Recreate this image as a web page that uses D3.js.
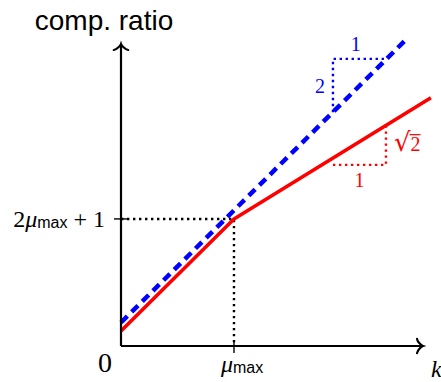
<!DOCTYPE html>
<html>
<head>
<meta charset="utf-8">
<script src="https://cdn.jsdelivr.net/npm/d3@7"></script>
<style>
  html, body { margin: 0; padding: 0; background: #fff; }
  svg { display: block; }
  .serif { font-family: "Liberation Serif", "DejaVu Serif", serif; }
  .sans { font-family: "Liberation Sans", Arial, sans-serif; }
</style>
</head>
<body>
<svg width="441" height="382"></svg>
<script>
// axis extents (abstract units, mu_max = 1)
const xDomain = [0, 2.673];
const yDomain = [0, 7.13];

// ticks
const xTickValues = [1];
const yTickValues = [3];

// lines
const redPts = [[0, 0.354], [1, 3], [2.743, 5.86]];
const bluePts = [[0, 0.555], [2.54, 7.28]];
const guidePts = [[0, 3], [1, 3], [1, 0]];

// slope triangles
const blueTri = [[1.876, 5.52], [1.876, 6.78], [2.351, 6.78]];
const redTri = [[1.876, 4.276], [2.345, 4.276], [2.345, 5.207]];
const blueTriLabels = ['2', '1'];   // vertical, horizontal
const redTriLabels = ['1', '2'];    // horizontal, sqrt(...)

const svg = d3.select('svg');

const x = d3.scaleLinear().domain(xDomain).range([121, 423]);
const y = d3.scaleLinear().domain(yDomain).range([346, 44]);

const line = d3.line()
    .x(d => x(d[0]))
    .y(d => y(d[1]));

// dotted guides to the knee
svg.append('path')
    .attr('d', line(guidePts))
    .attr('fill', 'none')
    .attr('stroke', '#000')
    .attr('stroke-width', 2.4)
    .attr('stroke-dasharray', '2.4 3.6');

// blue dashed line
svg.append('path')
    .attr('d', line(bluePts))
    .attr('fill', 'none')
    .attr('stroke', '#0000ff')
    .attr('stroke-width', 4.5)
    .attr('stroke-dasharray', '9 6');

// red line
svg.append('path')
    .attr('d', line(redPts))
    .attr('fill', 'none')
    .attr('stroke', '#ff0000')
    .attr('stroke-width', 3.6)
    .attr('stroke-linejoin', 'round');

// slope triangles
svg.append('path')
    .attr('d', line(blueTri))
    .attr('fill', 'none')
    .attr('stroke', '#0000ff')
    .attr('stroke-width', 2.4)
    .attr('stroke-dasharray', '2.4 3.6');

svg.append('path')
    .attr('d', line(redTri))
    .attr('fill', 'none')
    .attr('stroke', '#ff0000')
    .attr('stroke-width', 2.4)
    .attr('stroke-dasharray', '2.4 3.6');

// blue triangle labels
svg.append('text').attr('class', 'serif')
    .attr('x', x(blueTri[0][0]) - 8)
    .attr('y', (y(blueTri[0][1]) + y(blueTri[1][1])) / 2 + 7)
    .attr('text-anchor', 'end')
    .attr('font-size', 20)
    .attr('fill', '#0000ff')
    .text(blueTriLabels[0]);

svg.append('text').attr('class', 'serif')
    .attr('x', (x(blueTri[1][0]) + x(blueTri[2][0])) / 2 - 4)
    .attr('y', y(blueTri[1][1]) - 8)
    .attr('text-anchor', 'middle')
    .attr('font-size', 20)
    .attr('fill', '#0000ff')
    .text(blueTriLabels[1]);

// red triangle labels
svg.append('text').attr('class', 'serif')
    .attr('x', (x(redTri[0][0]) + x(redTri[1][0])) / 2)
    .attr('y', y(redTri[0][1]) + 22)
    .attr('text-anchor', 'middle')
    .attr('font-size', 20)
    .attr('fill', '#ff0000')
    .text(redTriLabels[0]);

const sq = svg.append('text').attr('class', 'serif')
    .attr('x', x(redTri[1][0]) + 8)
    .attr('y', (y(redTri[1][1]) + y(redTri[2][1])) / 2 + 6)
    .attr('font-size', 20)
    .attr('fill', '#ff0000');
const rad = sq.append('tspan').attr('font-size', 26).attr('font-family', '"DejaVu Serif", serif').text('\u221A');
const sq2 = sq.append('tspan').text(redTriLabels[1]);
{
  const b = sq2.node().getBBox();
  const r = rad.node().getBBox ? sq.node().getBBox() : b;
  svg.append('line')
      .attr('x1', b.x - 1).attr('x2', b.x + b.width)
      .attr('y1', b.y + 1.5).attr('y2', b.y + 1.5)
      .attr('stroke', '#ff0000')
      .attr('stroke-width', 1.2);
}

// axes
svg.append('line')
    .attr('x1', x(0)).attr('y1', y(0))
    .attr('x2', x(xDomain[1])).attr('y2', y(0))
    .attr('stroke', '#000').attr('stroke-width', 2.2);
svg.append('line')
    .attr('x1', x(0)).attr('y1', y(0))
    .attr('x2', x(0)).attr('y2', y(yDomain[1]))
    .attr('stroke', '#000').attr('stroke-width', 2.2);

// "to" style arrow heads
const arrowHead = 'M -7.2,6 C -4,5.6 -0.4,1.2 0,0 C 0.4,1.2 4,5.6 7.2,6';
svg.append('path')
    .attr('d', arrowHead)
    .attr('transform', `translate(${x(0)},${y(yDomain[1])})`)
    .attr('fill', 'none').attr('stroke', '#000').attr('stroke-width', 2.2)
    .attr('stroke-linecap', 'round');
svg.append('path')
    .attr('d', arrowHead)
    .attr('transform', `translate(${x(xDomain[1])},${y(0)}) rotate(90)`)
    .attr('fill', 'none').attr('stroke', '#000').attr('stroke-width', 2.2)
    .attr('stroke-linecap', 'round');

// ticks
svg.selectAll('.xtick').data(xTickValues).enter().append('line')
    .attr('class', 'xtick')
    .attr('x1', d => x(d)).attr('x2', d => x(d))
    .attr('y1', y(0) - 6).attr('y2', y(0) + 7)
    .attr('stroke', '#000').attr('stroke-width', 1.4);
svg.selectAll('.ytick').data(yTickValues).enter().append('line')
    .attr('class', 'ytick')
    .attr('y1', d => y(d)).attr('y2', d => y(d))
    .attr('x1', x(0) - 7).attr('x2', x(0) + 7)
    .attr('stroke', '#000').attr('stroke-width', 1.4);

// x tick label: mu_max
const xl = svg.append('text').attr('class', 'serif')
    .attr('x', x(xTickValues[0]) - 13)
    .attr('y', y(0) + 26)
    .attr('font-size', 24);
xl.append('tspan').attr('font-style', 'italic').text('\u03BC');
xl.append('tspan').attr('class', 'sans').attr('font-size', 16).attr('dy', 1).text('max');

// y tick label: 2 mu_max + 1
const yl = svg.append('text').attr('class', 'serif')
    .attr('x', x(0) - 16)
    .attr('y', y(yTickValues[0]) + 8)
    .attr('text-anchor', 'end')
    .attr('font-size', 24);
yl.append('tspan').text('2');
yl.append('tspan').attr('font-style', 'italic').text('\u03BC');
yl.append('tspan').attr('class', 'sans').attr('font-size', 16).attr('dy', 1).text('max');
yl.append('tspan').attr('dy', -1).text(' + 1');

// origin
svg.append('text').attr('class', 'serif')
    .attr('x', x(0) - 16)
    .attr('y', y(0) + 26)
    .attr('text-anchor', 'middle')
    .attr('font-size', 28)
    .text('0');

// axis titles
svg.append('text').attr('class', 'sans')
    .attr('x', 104)
    .attr('y', 30)
    .attr('text-anchor', 'middle')
    .attr('font-size', 28)
    .text('comp. ratio');

svg.append('text').attr('class', 'serif')
    .attr('x', 431)
    .attr('y', 377)
    .attr('font-size', 24)
    .attr('font-style', 'italic')
    .text('k');
</script>
</body>
</html>
